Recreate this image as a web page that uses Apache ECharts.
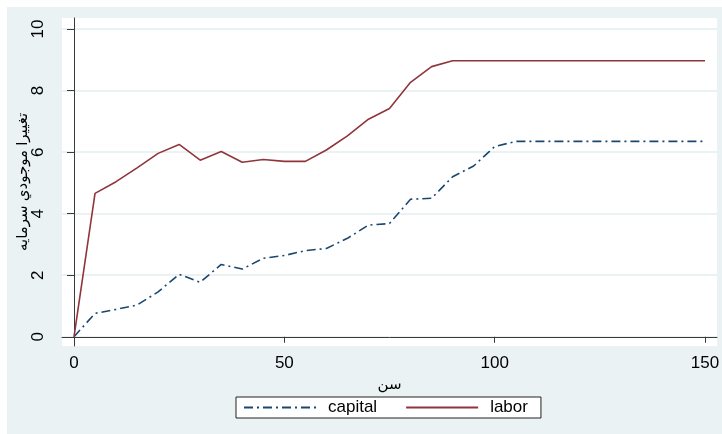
<!DOCTYPE html>
<html>
<head>
<meta charset="utf-8">
<script src="https://cdn.jsdelivr.net/npm/echarts@6/dist/echarts.min.js"></script>
<style>
  html, body { margin: 0; padding: 0; background: #ffffff; }
  #chart { position: absolute; left: 7px; top: 7px; width: 715px; height: 427px; background: #EAF2F3; }
</style>
</head>
<body>
<div id="chart"></div>
<script>
// Age (سن) sampled every 5 years
const ages = [0, 5, 10, 15, 20, 25, 30, 35, 40, 45, 50, 55, 60, 65, 70, 75, 80, 85, 90, 95, 100,
              105, 110, 115, 120, 125, 130, 135, 140, 145, 150];

const capital = [0, 0.76, 0.89, 1.03, 1.46, 2.03, 1.77, 2.35, 2.20, 2.55, 2.64, 2.80, 2.87, 3.20,
                 3.63, 3.68, 4.47, 4.50, 5.20, 5.55, 6.18, 6.35, 6.35, 6.35, 6.35, 6.35, 6.35,
                 6.35, 6.35, 6.35, 6.35];

const labor = [0, 4.66, 5.04, 5.49, 5.96, 6.25, 5.74, 6.02, 5.67, 5.76, 5.70, 5.70, 6.07, 6.53,
               7.07, 7.42, 8.27, 8.78, 8.97, 8.97, 8.97, 8.97, 8.97, 8.97, 8.97, 8.97, 8.97,
               8.97, 8.97, 8.97, 8.97];

const xTicks = [0, 50, 100, 150];
const yTicks = [0, 2, 4, 6, 8, 10];

const FONT = '"Liberation Sans", "DejaVu Sans", sans-serif';
const AXIS_COLOR = '#3a3a3a';

const chart = echarts.init(document.getElementById('chart'), null, { renderer: 'canvas' });

chart.setOption({
  animation: false,
  backgroundColor: '#EAF2F3',
  textStyle: { fontFamily: FONT },
  grid: {
    left: 55, right: 5, top: 11, bottom: 88,
    outerBoundsMode: 'none',
    containLabel: false,
    show: true, backgroundColor: '#ffffff', borderWidth: 0
  },
  xAxis: {
    type: 'value',
    min: -2.85, max: 152.85,
    name: 'سن',
    nameLocation: 'middle',
    nameGap: 29,
    nameTextStyle: { fontSize: 15, color: '#000', fontFamily: FONT },
    axisLine: { show: true, lineStyle: { color: AXIS_COLOR, width: 1 } },
    axisTick: { show: true, length: 6, customValues: xTicks, lineStyle: { color: AXIS_COLOR } },
    axisLabel: { customValues: xTicks, fontSize: 17, color: '#000', margin: 9, fontFamily: FONT },
    splitLine: { show: false }
  },
  yAxis: {
    type: 'value',
    min: -0.30, max: 10.36,
    name: 'تغییرا موجودي سرمايه',
    nameLocation: 'middle',
    nameGap: 32,
    nameMoveOverlap: false,
    nameRotate: 90,
    nameTextStyle: { fontSize: 15, color: '#000', fontFamily: FONT },
    axisLine: { show: true, lineStyle: { color: AXIS_COLOR, width: 1 } },
    axisTick: { show: true, length: 7, customValues: yTicks, lineStyle: { color: AXIS_COLOR } },
    axisLabel: { customValues: yTicks, rotate: 90, fontSize: 17, color: '#000', margin: 15, fontFamily: FONT },
    splitLine: { show: true, lineStyle: { color: '#EAF2F3', width: 2 } }
  },
  legend: {
    left: 229, top: 390,
    padding: [2, 13, 2, 7],
    itemWidth: 72, itemHeight: 16, itemGap: 28,
    backgroundColor: '#ffffff',
    borderColor: '#222', borderWidth: 1, borderRadius: 0,
    itemStyle: { opacity: 0 },
    textStyle: { fontSize: 17, color: '#000', fontFamily: FONT, padding: [0, 0, 0, 7] },
    data: ['capital', 'labor']
  },
  series: [
    {
      name: 'capital',
      type: 'line',
      data: ages.map((a, i) => [a, capital[i]]),
      symbol: 'none',
      color: '#1A476F',
      lineStyle: { color: '#1A476F', width: 1.6, type: [9, 4, 2, 4] }
    },
    {
      name: 'labor',
      type: 'line',
      data: ages.map((a, i) => [a, labor[i]]),
      symbol: 'none',
      color: '#90353B',
      lineStyle: { color: '#90353B', width: 1.6, type: 'solid' }
    }
  ]
});
</script>
</body>
</html>
